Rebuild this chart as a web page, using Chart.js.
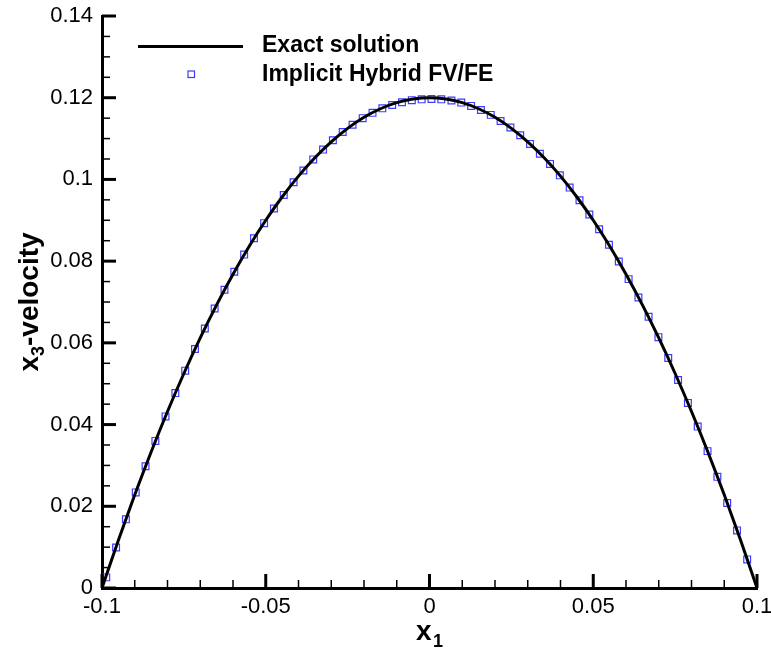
<!DOCTYPE html>
<html>
<head>
<meta charset="utf-8">
<script src="https://cdn.jsdelivr.net/npm/chart.js@4.4.1/dist/chart.umd.min.js"></script>
<style>
  body { margin: 0; background: #fff; }
</style>
</head>
<body>
<canvas id="myChart" width="771" height="651"></canvas>
<script>
// exact solution
const exactX = [-0.1, -0.095, -0.09, -0.085, -0.08, -0.075, -0.07, -0.065, -0.06, -0.055, -0.05,
  -0.045, -0.04, -0.035, -0.03, -0.025, -0.02, -0.015, -0.01, -0.005, 0,
  0.005, 0.01, 0.015, 0.02, 0.025, 0.03, 0.035, 0.04, 0.045, 0.05,
  0.055, 0.06, 0.065, 0.07, 0.075, 0.08, 0.085, 0.09, 0.095, 0.1];
const exactY = [0, 0.0117, 0.0228, 0.0333, 0.0432, 0.0525, 0.0612, 0.0693, 0.0768, 0.0837, 0.09,
  0.0957, 0.1008, 0.1053, 0.1092, 0.1125, 0.1152, 0.1173, 0.1188, 0.1197, 0.12,
  0.1197, 0.1188, 0.1173, 0.1152, 0.1125, 0.1092, 0.1053, 0.1008, 0.0957, 0.09,
  0.0837, 0.0768, 0.0693, 0.0612, 0.0525, 0.0432, 0.0333, 0.0228, 0.0117, 0];

// implicit hybrid FV/FE markers
const fvX = [-0.0987, -0.0957, -0.0927, -0.0897, -0.0867, -0.0837, -0.0806, -0.0776, -0.0746, -0.0716,
  -0.0686, -0.0656, -0.0626, -0.0596, -0.0566, -0.0536, -0.0505, -0.0475, -0.0445, -0.0415,
  -0.0385, -0.0355, -0.0325, -0.0295, -0.0265, -0.0235, -0.0204, -0.0174, -0.0144, -0.0114,
  -0.0084, -0.0054, -0.0024, 0.0006, 0.0036, 0.0067, 0.0097, 0.0127, 0.0157, 0.0187,
  0.0217, 0.0247, 0.0277, 0.0307, 0.0337, 0.0368, 0.0398, 0.0428, 0.0458, 0.0488,
  0.0518, 0.0548, 0.0578, 0.0608, 0.0638, 0.0669, 0.0699, 0.0729, 0.0759, 0.0789,
  0.0819, 0.0849, 0.0879, 0.0909, 0.0939, 0.0970];
const fvY = [0.0026, 0.0099, 0.0168, 0.0234, 0.0298, 0.0360, 0.0420, 0.0477, 0.0532, 0.0585,
  0.0635, 0.0684, 0.0730, 0.0774, 0.0816, 0.0856, 0.0893, 0.0929, 0.0962, 0.0993,
  0.1022, 0.1049, 0.1073, 0.1096, 0.1116, 0.1134, 0.1150, 0.1163, 0.1174, 0.1182,
  0.1189, 0.1194, 0.1196, 0.1197, 0.1196, 0.1193, 0.1188, 0.1180, 0.1170, 0.1158,
  0.1143, 0.1127, 0.1108, 0.1087, 0.1063, 0.1038, 0.1010, 0.0980, 0.0949, 0.0914,
  0.0878, 0.0840, 0.0799, 0.0756, 0.0711, 0.0664, 0.0614, 0.0563, 0.0509, 0.0453,
  0.0395, 0.0335, 0.0272, 0.0208, 0.0141, 0.0070];

const xTicks = [-0.1, -0.05, 0, 0.05, 0.1];
const yTicks = [0, 0.02, 0.04, 0.06, 0.08, 0.1, 0.12, 0.14];
const xMinor = [-0.09, -0.08, -0.07, -0.06, -0.04, -0.03, -0.02, -0.01, 0.01, 0.02, 0.03, 0.04, 0.06, 0.07, 0.08, 0.09];
const yMinor = [0.005, 0.01, 0.015, 0.025, 0.03, 0.035, 0.045, 0.05, 0.055, 0.065, 0.07, 0.075,
  0.085, 0.09, 0.095, 0.105, 0.11, 0.115, 0.125, 0.13, 0.135];

const lineLabel = 'Exact solution';
const markLabel = 'Implicit Hybrid FV/FE';

Chart.defaults.font.family = "'Liberation Sans', Arial, Helvetica, sans-serif";
Chart.defaults.color = '#000';

const fmt = v => String(+v.toFixed(3));

// inward tick marks like the original plot
const tickMarks = {
  id: 'tickMarks',
  afterDraw(chart) {
    const ctx = chart.ctx;
    const xs = chart.scales.x, ys = chart.scales.y;
    const a = chart.chartArea;
    ctx.save();
    ctx.strokeStyle = '#000';
    ctx.lineWidth = 3;
    xTicks.forEach(v => {
      const px = xs.getPixelForValue(v);
      ctx.beginPath(); ctx.moveTo(px, a.bottom); ctx.lineTo(px, a.bottom - 14); ctx.stroke();
    });
    yTicks.forEach(v => {
      const py = ys.getPixelForValue(v);
      ctx.beginPath(); ctx.moveTo(a.left, py); ctx.lineTo(a.left + 14, py); ctx.stroke();
    });
    ctx.lineWidth = 1.5;
    xMinor.forEach(v => {
      const px = xs.getPixelForValue(v);
      ctx.beginPath(); ctx.moveTo(px, a.bottom); ctx.lineTo(px, a.bottom - 8); ctx.stroke();
    });
    yMinor.forEach(v => {
      const py = ys.getPixelForValue(v);
      ctx.beginPath(); ctx.moveTo(a.left, py); ctx.lineTo(a.left + 8, py); ctx.stroke();
    });
    ctx.restore();
  }
};

// legend in the upper left and the axis titles with subscripts
const extras = {
  id: 'extras',
  afterDraw(chart) {
    const ctx = chart.ctx;
    const [line, marks] = chart.data.datasets;
    ctx.save();

    ctx.strokeStyle = line.borderColor;
    ctx.lineWidth = line.borderWidth;
    ctx.beginPath(); ctx.moveTo(138, 46.5); ctx.lineTo(243, 46.5); ctx.stroke();
    ctx.strokeStyle = marks.borderColor;
    ctx.lineWidth = marks.borderWidth;
    ctx.strokeRect(188, 71, 6.5, 6.5);

    ctx.fillStyle = '#000';
    ctx.textBaseline = 'middle';
    ctx.textAlign = 'left';
    ctx.font = "bold 23px 'Liberation Sans', Arial, sans-serif";
    ctx.fillText(line.label, 262, 46);
    ctx.fillText(marks.label, 262, 75);

    // x title
    ctx.textBaseline = 'alphabetic';
    ctx.font = "bold 28px 'Liberation Sans', Arial, sans-serif";
    ctx.fillText('x', 416, 640);
    ctx.font = "bold 18px 'Liberation Sans', Arial, sans-serif";
    ctx.fillText('1', 433, 647);

    // y title
    ctx.translate(38, 302);
    ctx.rotate(-Math.PI / 2);
    const big = "bold 28px 'Liberation Sans', Arial, sans-serif";
    const small = "bold 18px 'Liberation Sans', Arial, sans-serif";
    ctx.font = big; const w1 = ctx.measureText('x').width;
    const w3 = ctx.measureText('-velocity').width;
    ctx.font = small; const w2 = ctx.measureText('3').width;
    let x0 = -(w1 + w2 + w3) / 2;
    ctx.font = big; ctx.fillText('x', x0, 0);
    ctx.font = small; ctx.fillText('3', x0 + w1, 6);
    ctx.font = big; ctx.fillText('-velocity', x0 + w1 + w2, 0);
    ctx.restore();
  }
};

const ctx1 = document.getElementById('myChart').getContext('2d');

const chart = new Chart(ctx1, {
  type: 'scatter',
  data: {
    datasets: [{
      label: lineLabel,
      type: 'line',
      data: exactX.map((x, i) => ({ x: x, y: exactY[i] })),
      borderColor: '#000',
      borderWidth: 3,
      pointRadius: 0,
      fill: false,
      showLine: true,
      cubicInterpolationMode: 'monotone'
    }, {
      label: markLabel,
      data: fvX.map((x, i) => ({ x: x, y: fvY[i] })),
      pointStyle: 'rect',
      pointRadius: 4.8,
      borderColor: '#3c3cff',
      backgroundColor: 'rgba(0,0,0,0)',
      borderWidth: 1.2,
      showLine: false
    }]
  },
  options: {
    responsive: false,
    animation: false,
    devicePixelRatio: 1,
    layout: { padding: { left: 0, top: 16, right: 14, bottom: 0 } },
    plugins: {
      legend: { display: false },
      tooltip: { enabled: false }
    },
    scales: {
      x: {
        type: 'linear',
        min: -0.1, max: 0.1,
        afterBuildTicks: s => { s.ticks = xTicks.map(v => ({ value: v })); },
        afterFit: s => { s.height = 63; s.paddingLeft = 0; s.paddingRight = 0; },
        grid: { display: false, drawTicks: false },
        border: { display: true, color: '#000', width: 3 },
        ticks: { font: { size: 22 }, color: '#000', padding: 6, maxRotation: 0, callback: fmt }
      },
      y: {
        type: 'linear',
        min: 0, max: 0.14,
        afterBuildTicks: s => { s.ticks = yTicks.map(v => ({ value: v })); },
        afterFit: s => { s.width = 102; s.paddingTop = 0; s.paddingBottom = 0; },
        grid: { display: false, drawTicks: false },
        border: { display: true, color: '#000', width: 3 },
        ticks: { font: { size: 22 }, color: '#000', padding: 9, callback: fmt }
      }
    }
  },
  plugins: [tickMarks, extras]
});
</script>
</body>
</html>
